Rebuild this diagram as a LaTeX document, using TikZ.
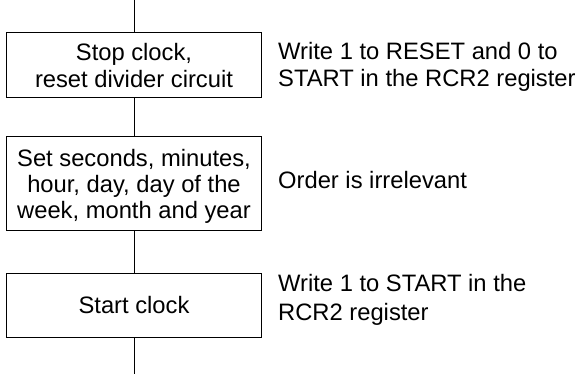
\documentclass[tikz,border=0pt]{standalone}
\usepackage{fontspec}
\setmainfont{Liberation Sans}
\begin{document}
\begin{tikzpicture}[x=1pt,y=1pt,
  stepbox/.style={draw=black, line width=1pt, inner sep=0pt, minimum width=255pt, align=center, font=\fontsize{23.75}{27}\selectfont},
  note/.style={anchor=base west, inner sep=0pt, align=left},
  link/.style={draw=black, line width=1pt}]
\useasboundingbox (0,0) rectangle (584,374);
\coordinate (top) at (134,374);
\coordinate (bot) at (134,0);
\node[stepbox, minimum height=65pt] (b1) at (134,308.5) {Stop clock,\\reset divider circuit};
\node[stepbox, minimum height=94pt, text depth=0pt, font=\fontsize{23.75}{26}\selectfont] (b2) at (134,190) {Set seconds, minutes,\\hour, day, day of the\\week, month and year};
\node[stepbox, minimum height=64pt] (b3) at (134,68.7) {Start clock};
\node[note, font=\fontsize{23.75}{27}\selectfont] (n1) at (278,287) {Write 1 to RESET and 0 to\\START in the RCR2 register};
\node[note, font=\fontsize{23.75}{27}\selectfont] (n2) at (278,185) {Order is irrelevant};
\node[note, font=\fontsize{23.75}{29}\selectfont] (n3) at (278,53) {Write 1 to START in the\\RCR2 register};
\draw[link] (top) -- (b1.north);
\draw[link] (b1.south) -- (b2.north);
\draw[link] (b2.south) -- (b3.north);
\draw[link] (b3.south) -- (bot);
\end{tikzpicture}
\end{document}
